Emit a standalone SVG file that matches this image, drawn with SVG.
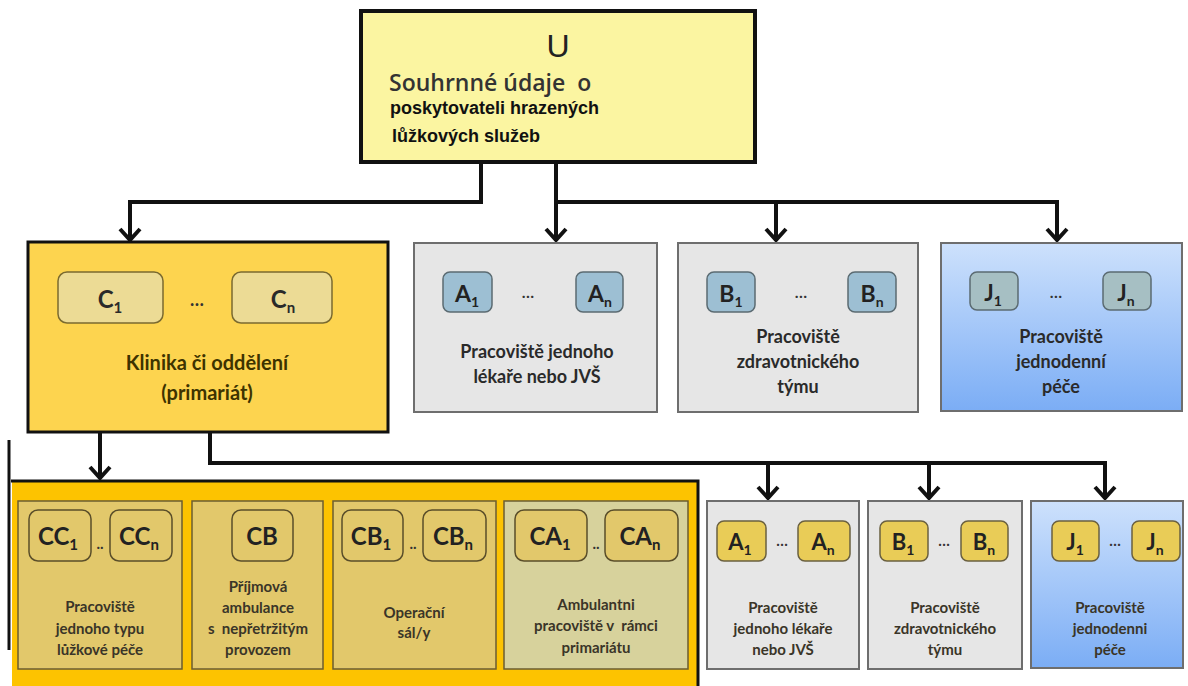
<svg xmlns="http://www.w3.org/2000/svg" width="1188" height="686" viewBox="0 0 1188 686">
<defs>
<marker id="arr" markerUnits="userSpaceOnUse" markerWidth="30" markerHeight="30" viewBox="-15 -15 30 30" refX="1" refY="0" orient="auto">
<path d="M-11,-10 L0,0 L-11,10" fill="none" stroke="#111" stroke-width="4"/>
</marker>
<linearGradient id="blue" x1="0" y1="0" x2="0" y2="1">
<stop offset="0" stop-color="#cde1fc"/>
<stop offset="1" stop-color="#7badf5"/>
</linearGradient>
</defs>
<style>
.t{font-family:"Lato","Open Sans","Liberation Sans",sans-serif;font-weight:bold;text-anchor:middle;white-space:pre}
.lbl{font-size:18px;fill:#2a2a2a}
.sm{font-size:15px;fill:#3a3528}
.gray{fill:#e6e6e6;stroke:#6e6e6e;stroke-width:2}
.sb{fill:#9dbfd3;stroke:#5b6b72;stroke-width:1.5}
.sj{fill:#a6bfc3;stroke:#5b6b72;stroke-width:1.5}
.sy{fill:#e9cc57;stroke:#6a6040;stroke-width:1.5}
.sc{fill:#ecdb95;stroke:#7a6a30;stroke-width:1.5}
.in{fill:#e2c86b;stroke:#6b5d30;stroke-width:1.5}
.si{fill:#e2c86b;stroke:#5a4e2a;stroke-width:1.5}
.con{fill:none;stroke:#111;stroke-width:4;marker-end:url(#arr)}
</style>
<rect width="1188" height="686" fill="#fff"/>

<g id="connectors">
<path class="con" d="M481,162 V202 H130 V241"/>
<path class="con" d="M556,162 V241"/>
<path class="con" d="M556,202 H776 V241"/>
<path class="con" d="M776,202 H1057 V241"/>
<path class="con" d="M100,433 V479"/>
<path class="con" d="M210,433 V463 H768 V499"/>
<path class="con" d="M768,463 H929 V499"/>
<path class="con" d="M929,463 H1105 V499"/>
</g>

<g id="U">
<rect x="361" y="11" width="394" height="151" fill="#fbf5a1" stroke="#111" stroke-width="4"/>
<text x="558" y="57" font-family="Liberation Sans, sans-serif" font-size="32" fill="#222" text-anchor="middle">U</text>
<text x="389" y="91" font-family="Open Sans, Liberation Sans, sans-serif" font-size="23" font-weight="600" fill="#333" style="white-space:pre">Souhrnné údaje  o</text>
<text x="390" y="114" font-family="Liberation Sans, sans-serif" font-size="18" font-weight="bold" fill="#111">poskytovateli hrazených</text>
<text x="392" y="142" font-family="Liberation Sans, sans-serif" font-size="18" font-weight="bold" fill="#111">lůžkových služeb</text>
</g>

<g id="C">
<rect x="28" y="242" width="360" height="190" fill="#fdd44f" stroke="#111" stroke-width="3"/>
<rect class="sc" x="58" y="272" width="105" height="51" rx="9"/>
<rect class="sc" x="232" y="272" width="100" height="51" rx="9"/>
<text class="t" x="110" y="308" font-size="24" fill="#2a2a2a">C<tspan font-size="15" dy="5">1</tspan></text>
<text class="t" x="283" y="308" font-size="24" fill="#2a2a2a">C<tspan font-size="15" dy="5">n</tspan></text>
<text class="t" x="197" y="306" font-size="18" fill="#333">…</text>
<text class="t" x="207" y="370" font-size="20" fill="#3d3300">Klinika či oddělení</text>
<text class="t" x="207" y="400" font-size="20" fill="#3d3300">(primariát)</text>
</g>

<g id="A">
<rect class="gray" x="414" y="243" width="243" height="169"/>
<rect class="sb" x="443" y="272" width="49" height="40" rx="7"/>
<rect class="sb" x="576" y="272" width="47" height="40" rx="7"/>
<text class="t" x="467" y="302" font-size="23" fill="#222">A<tspan font-size="14" dy="5">1</tspan></text>
<text class="t" x="600" y="302" font-size="23" fill="#222">A<tspan font-size="14" dy="5">n</tspan></text>
<text class="t" x="528" y="298" font-size="16" fill="#333">…</text>
<text class="t lbl" x="537" y="358">Pracoviště jednoho</text>
<text class="t lbl" x="537" y="383">lékaře nebo JVŠ</text>
</g>

<g id="B">
<rect class="gray" x="678" y="243" width="240" height="169"/>
<rect class="sb" x="707" y="272" width="48" height="40" rx="7"/>
<rect class="sb" x="848" y="272" width="48" height="40" rx="7"/>
<text class="t" x="731" y="302" font-size="23" fill="#222">B<tspan font-size="14" dy="5">1</tspan></text>
<text class="t" x="872" y="302" font-size="23" fill="#222">B<tspan font-size="14" dy="5">n</tspan></text>
<text class="t" x="801" y="298" font-size="16" fill="#333">…</text>
<text class="t lbl" x="798" y="343">Pracoviště</text>
<text class="t lbl" x="798" y="368">zdravotnického</text>
<text class="t lbl" x="798" y="393">týmu</text>
</g>

<g id="J">
<rect x="941" y="243" width="241" height="168" fill="url(#blue)" stroke="#6e6e6e" stroke-width="2"/>
<rect class="sj" x="970" y="272" width="48" height="38" rx="7"/>
<rect class="sj" x="1103" y="272" width="48" height="38" rx="7"/>
<text class="t" x="993" y="301" font-size="22" fill="#222">J<tspan font-size="14" dy="5">1</tspan></text>
<text class="t" x="1126" y="301" font-size="22" fill="#222">J<tspan font-size="14" dy="5">n</tspan></text>
<text class="t" x="1056" y="298" font-size="16" fill="#333">…</text>
<text class="t lbl" x="1061" y="343">Pracoviště</text>
<text class="t lbl" x="1061" y="368">jednodenní</text>
<text class="t lbl" x="1061" y="393">péče</text>
</g>

<g id="primariat">
<line x1="9" y1="440" x2="9" y2="650" stroke="#111" stroke-width="3"/>
<rect x="12" y="481" width="686" height="210" fill="#fdc300"/>
<path d="M11,481 H698 V686" fill="none" stroke="#111" stroke-width="3"/>
</g>

<g id="CC">
<rect class="in" x="18" y="501" width="164" height="168"/>
<rect class="si" x="29" y="510" width="62" height="51" rx="9"/>
<rect class="si" x="110" y="510" width="62" height="51" rx="9"/>
<text class="t" x="58" y="545" font-size="24" fill="#222">CC<tspan font-size="15" dy="5">1</tspan></text>
<text class="t" x="139" y="545" font-size="24" fill="#222">CC<tspan font-size="15" dy="5">n</tspan></text>
<text class="t" x="100" y="549" font-size="15" fill="#333">..</text>
<text class="t sm" x="100" y="612">Pracoviště</text>
<text class="t sm" x="100" y="634">jednoho typu</text>
<text class="t sm" x="100" y="655">lůžkové péče</text>
</g>

<g id="CB">
<rect class="in" x="192" y="501" width="131" height="168"/>
<rect class="si" x="232" y="510" width="61" height="51" rx="9"/>
<text class="t" x="262" y="545" font-size="24" fill="#222">CB</text>
<text class="t sm" x="258" y="592">Příjmová</text>
<text class="t sm" x="258" y="613">ambulance</text>
<text class="t sm" x="258" y="634">s  nepřetržitým</text>
<text class="t sm" x="258" y="655">provozem</text>
</g>

<g id="CBn">
<rect class="in" x="333" y="501" width="163" height="168"/>
<rect class="si" x="342" y="510" width="61" height="51" rx="9"/>
<rect class="si" x="423" y="510" width="63" height="51" rx="9"/>
<text class="t" x="371" y="545" font-size="24" fill="#222">CB<tspan font-size="15" dy="5">1</tspan></text>
<text class="t" x="453" y="545" font-size="24" fill="#222">CB<tspan font-size="15" dy="5">n</tspan></text>
<text class="t" x="413" y="549" font-size="15" fill="#333">..</text>
<text class="t sm" x="414" y="618">Operační</text>
<text class="t sm" x="414" y="638">sál/y</text>
</g>

<g id="CA">
<rect x="504" y="501" width="184" height="168" fill="#d7d29c" stroke="#6b5d30" stroke-width="1.5"/>
<rect class="si" x="515" y="510" width="72" height="51" rx="9"/>
<rect class="si" x="605" y="510" width="73" height="51" rx="9"/>
<text class="t" x="550" y="545" font-size="24" fill="#222">CA<tspan font-size="15" dy="5">1</tspan></text>
<text class="t" x="640" y="545" font-size="24" fill="#222">CA<tspan font-size="15" dy="5">n</tspan></text>
<text class="t" x="596" y="549" font-size="15" fill="#333">..</text>
<text class="t sm" x="596" y="610">Ambulantni</text>
<text class="t sm" x="596" y="631">pracoviště v  rámci</text>
<text class="t sm" x="596" y="653">primariátu</text>
</g>

<g id="A2">
<rect class="gray" x="707" y="501" width="152" height="168"/>
<rect class="sy" x="717" y="521" width="49" height="40" rx="7"/>
<rect class="sy" x="798" y="521" width="52" height="40" rx="7"/>
<text class="t" x="740" y="550" font-size="22" fill="#222">A<tspan font-size="14" dy="5">1</tspan></text>
<text class="t" x="823" y="550" font-size="22" fill="#222">A<tspan font-size="14" dy="5">n</tspan></text>
<text class="t" x="782" y="546" font-size="15" fill="#333">…</text>
<text class="t sm" x="783" y="613">Pracoviště</text>
<text class="t sm" x="783" y="634">jednoho lékaře</text>
<text class="t sm" x="783" y="655">nebo JVŠ</text>
</g>

<g id="B2">
<rect class="gray" x="868" y="501" width="154" height="168"/>
<rect class="sy" x="880" y="521" width="48" height="40" rx="7"/>
<rect class="sy" x="961" y="521" width="47" height="40" rx="7"/>
<text class="t" x="903" y="550" font-size="22" fill="#222">B<tspan font-size="14" dy="5">1</tspan></text>
<text class="t" x="984" y="550" font-size="22" fill="#222">B<tspan font-size="14" dy="5">n</tspan></text>
<text class="t" x="944" y="546" font-size="15" fill="#333">…</text>
<text class="t sm" x="945" y="613">Pracoviště</text>
<text class="t sm" x="945" y="634">zdravotnického</text>
<text class="t sm" x="945" y="655">týmu</text>
</g>

<g id="J2">
<rect x="1031" y="501" width="152" height="167" fill="url(#blue)" stroke="#6e6e6e" stroke-width="2"/>
<rect class="sy" x="1052" y="521" width="47" height="40" rx="7"/>
<rect class="sy" x="1132" y="521" width="48" height="40" rx="7"/>
<text class="t" x="1075" y="550" font-size="22" fill="#222">J<tspan font-size="14" dy="5">1</tspan></text>
<text class="t" x="1155" y="550" font-size="22" fill="#222">J<tspan font-size="14" dy="5">n</tspan></text>
<text class="t" x="1115" y="546" font-size="15" fill="#333">…</text>
<text class="t sm" x="1110" y="613">Pracoviště</text>
<text class="t sm" x="1110" y="634">jednodenni</text>
<text class="t sm" x="1110" y="655">péče</text>
</g>
</svg>
